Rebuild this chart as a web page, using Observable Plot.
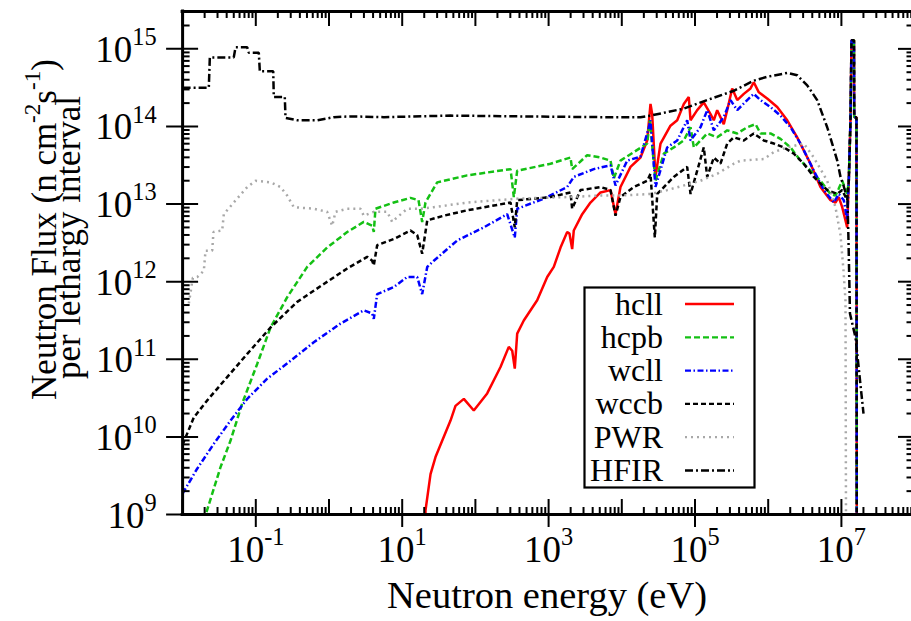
<!DOCTYPE html>
<html>
<head>
<meta charset="utf-8">
<script src="https://cdn.jsdelivr.net/npm/d3@7"></script>
<script src="https://cdn.jsdelivr.net/npm/@observablehq/plot@0.6"></script>
<style>
  html, body { margin: 0; padding: 0; background: #fff; overflow: hidden; }
  #wrap { position: relative; width: 911px; height: 621px; font-family: "Liberation Serif", "DejaVu Serif", serif; }
  #wrap svg, #wrap text { font-family: "Liberation Serif", "DejaVu Serif", serif !important; }
</style>
</head>
<body>
<div id="wrap"></div>
<script>
// ---- Data: [log10(energy / eV), log10(flux)] ----
const hcll = [[1.318,8.80],[1.318,9.05],[1.387,9.52],[1.455,9.74],[1.546,9.95],[1.660,10.21],[1.728,10.40],[1.842,10.49],[1.978,10.34],[2.161,10.56],[2.343,10.90],[2.456,11.16],[2.503,11.11],[2.538,10.88],[2.571,11.33],[2.661,11.50],[2.844,11.76],[2.981,12.06],[3.071,12.19],[3.163,12.44],[3.254,12.64],[3.285,12.62],[3.322,12.42],[3.344,12.66],[3.459,12.87],[3.572,13.02],[3.709,13.15],[3.846,13.18],[3.914,12.87],[3.982,13.22],[4.119,13.48],[4.255,13.60],[4.347,13.82],[4.392,14.29],[4.415,14.16],[4.460,13.35],[4.529,13.78],[4.665,14.01],[4.757,14.08],[4.847,14.29],[4.915,14.38],[4.939,14.08],[5.030,14.21],[5.120,14.31],[5.212,14.16],[5.257,14.08],[5.303,14.21],[5.393,14.03],[5.440,14.21],[5.508,14.49],[5.577,14.34],[5.667,14.42],[5.758,14.49],[5.803,14.57],[5.872,14.44],[5.986,14.36],[6.123,14.25],[6.260,14.08],[6.396,13.86],[6.578,13.52],[6.714,13.22],[6.851,13.05],[6.919,13.02],[6.964,13.09],[7.011,12.96],[7.056,12.79],[7.079,12.70],[7.101,13.30],[7.124,14.08],[7.138,15.11],[7.172,15.11],[7.175,14.12],[7.206,14.12],[7.210,8.80]];
const hcpb = [[-1.700,8.80],[-1.674,9.03],[-1.482,9.61],[-1.346,9.95],[-1.186,10.43],[-0.981,10.94],[-0.799,11.41],[-0.571,11.80],[-0.298,12.19],[-0.025,12.44],[0.249,12.64],[0.475,12.77],[0.590,12.72],[0.612,12.64],[0.635,12.94],[0.885,13.02],[1.113,13.08],[1.223,13.05],[1.273,12.77],[1.318,13.02],[1.478,13.28],[1.888,13.37],[2.480,13.45],[2.525,13.09],[2.571,13.43],[3.026,13.52],[3.299,13.60],[3.322,13.45],[3.527,13.63],[3.709,13.60],[3.846,13.56],[3.891,13.33],[3.982,13.56],[4.164,13.67],[4.347,13.78],[4.383,14.08],[4.460,13.30],[4.574,13.65],[4.710,13.73],[4.847,13.82],[4.939,13.99],[4.984,13.73],[5.167,13.91],[5.303,13.86],[5.440,13.95],[5.577,13.91],[5.713,13.99],[5.827,14.03],[5.895,13.91],[6.031,13.91],[6.168,13.84],[6.305,13.73],[6.441,13.56],[6.578,13.43],[6.714,13.30],[6.851,13.13],[6.919,13.11],[6.964,13.20],[7.011,13.30],[7.079,13.13],[7.101,13.30],[7.124,14.08],[7.138,15.11],[7.172,15.11],[7.175,14.12],[7.206,14.12],[7.210,8.80]];
const wcll = [[-2.000,9.27],[-1.801,9.59],[-1.574,9.91],[-1.346,10.21],[-1.117,10.49],[-0.844,10.75],[-0.526,10.98],[-0.208,11.22],[0.157,11.46],[0.475,11.63],[0.590,11.59],[0.612,11.52],[0.658,11.84],[0.885,11.93],[1.068,12.06],[1.205,12.06],[1.273,11.84],[1.342,12.19],[1.432,12.27],[1.751,12.53],[2.115,12.70],[2.434,12.87],[2.538,12.57],[2.571,12.94],[2.934,13.07],[3.254,13.22],[3.344,13.35],[3.617,13.45],[3.846,13.50],[3.914,13.24],[4.074,13.56],[4.255,13.61],[4.369,13.99],[4.392,14.08],[4.460,13.22],[4.620,13.73],[4.757,13.82],[4.893,14.08],[4.939,13.82],[5.075,13.99],[5.167,14.21],[5.257,13.95],[5.393,14.12],[5.485,14.34],[5.577,14.21],[5.713,14.34],[5.803,14.42],[5.895,14.34],[6.031,14.25],[6.168,14.14],[6.305,13.99],[6.441,13.78],[6.623,13.43],[6.760,13.18],[6.896,13.02],[6.964,13.13],[7.033,13.05],[7.079,12.79],[7.101,13.30],[7.124,14.08],[7.138,15.11],[7.172,15.11],[7.175,14.12],[7.206,14.12],[7.210,8.80]];
const wccb = [[-2.000,9.90],[-1.847,10.25],[-1.664,10.47],[-1.391,10.77],[-1.117,11.07],[-0.799,11.41],[-0.434,11.74],[-0.071,11.97],[0.249,12.17],[0.522,12.32],[0.590,12.27],[0.612,12.21],[0.658,12.47],[0.885,12.55],[1.113,12.66],[1.205,12.60],[1.273,12.36],[1.342,12.79],[1.568,12.85],[1.888,12.92],[2.480,13.02],[2.538,12.70],[2.571,13.05],[3.026,13.09],[3.299,13.15],[3.322,12.94],[3.436,13.18],[3.709,13.22],[3.846,13.18],[3.914,12.85],[3.982,13.09],[4.164,13.22],[4.347,13.30],[4.392,13.39],[4.451,12.57],[4.484,13.13],[4.710,13.35],[4.893,13.48],[4.939,13.13],[5.030,13.43],[5.120,13.73],[5.167,13.35],[5.257,13.60],[5.348,13.52],[5.440,13.78],[5.530,13.86],[5.667,13.82],[5.803,13.91],[5.940,13.82],[6.077,13.78],[6.213,13.73],[6.350,13.65],[6.486,13.52],[6.623,13.35],[6.806,13.18],[6.943,13.13],[7.011,13.18],[7.079,13.05],[7.101,13.30],[7.124,14.08],[7.138,15.11],[7.172,15.11],[7.175,14.12],[7.206,14.12],[7.210,8.80]];
const pwr = [[-1.915,11.72],[-1.860,12.05],[-1.800,12.06],[-1.710,12.14],[-1.687,12.40],[-1.596,12.40],[-1.578,12.64],[-1.459,12.66],[-1.437,12.87],[-1.301,13.02],[-1.117,13.22],[-1.004,13.30],[-0.799,13.28],[-0.663,13.22],[-0.571,13.11],[-0.481,12.96],[-0.208,12.94],[-0.025,12.90],[0.044,12.72],[0.089,12.90],[0.249,12.94],[0.430,12.94],[0.475,12.85],[0.612,12.90],[0.795,12.90],[0.863,12.77],[0.932,12.83],[1.068,12.94],[1.250,12.94],[1.432,12.96],[1.888,13.02],[2.571,13.07],[3.254,13.09],[3.709,13.11],[3.982,13.11],[4.392,13.13],[4.620,13.18],[5.075,13.30],[5.303,13.39],[5.530,13.52],[5.622,13.56],[5.940,13.58],[6.077,13.67],[6.260,13.73],[6.486,13.78],[6.623,13.60],[6.806,13.30],[6.919,12.96],[6.988,12.60],[7.029,12.14],[7.056,11.76],[7.063,8.80]];
const hfir = [[-2.000,14.50],[-1.642,14.50],[-1.628,14.89],[-1.301,14.89],[-1.277,15.02],[-1.117,15.02],[-1.096,14.95],[-0.959,14.95],[-0.945,14.71],[-0.762,14.71],[-0.754,14.38],[-0.604,14.38],[-0.594,14.11],[-0.434,14.08],[-0.161,14.08],[0.066,14.12],[0.294,14.13],[0.749,14.12],[1.660,14.14],[2.616,14.13],[3.709,14.12],[4.255,14.12],[4.392,14.14],[4.847,14.23],[5.167,14.34],[5.530,14.46],[5.803,14.59],[5.986,14.64],[6.260,14.69],[6.396,14.66],[6.533,14.53],[6.669,14.34],[6.806,13.99],[6.874,13.78],[6.943,13.56],[6.988,13.35],[7.029,13.24],[7.083,13.05],[7.097,12.53],[7.117,11.59],[7.193,11.28],[7.302,10.30]];

const seriesNames  = ["hcll", "hcpb", "wcll", "wccb", "PWR", "HFIR"];
const seriesData   = [hcll, hcpb, wcll, wccb, pwr, hfir];
const seriesColors = ["#ff0000", "#14c014", "#0000ff", "#000000", "#a8a8a8", "#000000"];
const seriesDashes = [null, "6,3", "6,2.5,1.5,2.5", "5,3", "2,4", "8,3,2,3"];

// ---- Axes ----
const xDecades  = [-2, -1, 0, 1, 2, 3, 4, 5, 6, 7, 8];
const xLabeled  = [-1, 1, 3, 5, 7];
const yDecades  = [9, 10, 11, 12, 13, 14, 15];
const minorMult = [2, 3, 4, 5, 6, 7, 8, 9];
const xDomain = [1e-2, 1e8];
const yDomain = [1e9, 3.03e15];
const xTitle = "Neutron energy (eV)";
const yTitle1 = "Neutron Flux (n cm^{-2}s^{-1})";
const yTitle2 = "per lethargy interval";

// ---- Layout ----
const W = 911, H = 621, mL = 182.1, mR = 0, mT = 11, mB = 107;
const FW = W - mL - mR, FH = H - mT - mB;
const FONT = "Liberation Serif, DejaVu Serif, serif";

const xMajorVals = xDecades.map(k => 10 ** k);
const xMinorVals = xDecades.slice(0, -1).flatMap(k => minorMult.map(m => m * 10 ** k));
const yMajorVals = yDecades.map(k => 10 ** k);
const yMinorVals = yDecades.flatMap(k => minorMult.map(m => m * 10 ** k)).filter(v => v <= yDomain[1]);

const lineMarks = seriesData.map((s, i) => Plot.line(s, {
  x: d => 10 ** d[0], y: d => 10 ** d[1],
  stroke: seriesColors[i], strokeWidth: 2.5,
  strokeDasharray: seriesDashes[i] ?? undefined,
  strokeLinecap: "butt", strokeLinejoin: "miter", clip: true
}));

const tk = {stroke: "black", strokeWidth: 2};
const plot = Plot.plot({
  width: W, height: H,
  marginLeft: mL, marginRight: mR, marginTop: mT, marginBottom: mB,
  style: {fontFamily: FONT, background: "white", color: "black"},
  x: {type: "log", domain: xDomain, range: [mL, mL + 10 * 73.2], axis: null},
  y: {type: "log", domain: yDomain, axis: null},
  marks: [
    ...lineMarks,
    Plot.tickX(xMajorVals, {x: d => d, insetTop: FH - 15, ...tk}),
    Plot.tickX(xLabeled.map(k => 10 ** k), {x: d => d, insetTop: FH, insetBottom: -13, ...tk}),
    Plot.tickX(xMinorVals, {x: d => d, insetTop: FH - 7, ...tk}),
    Plot.tickX(xMajorVals, {x: d => d, insetBottom: FH - 15, ...tk}),
    Plot.tickX(xMinorVals, {x: d => d, insetBottom: FH - 7, ...tk}),
    Plot.tickY(yMajorVals, {y: d => d, insetLeft: -16, insetRight: FW - 16, ...tk}),
    Plot.tickY(yMinorVals, {y: d => d, insetRight: FW - 7.5, ...tk}),
    Plot.tickY(yMajorVals, {y: d => d, insetLeft: FW - 13, ...tk}),
    Plot.tickY(yMinorVals, {y: d => d, insetLeft: FW - 4.5, ...tk}),
    Plot.ruleX([xDomain[0], xDomain[1]], {x: d => d, stroke: "black", strokeWidth: 3, strokeLinecap: "square"}),
    Plot.ruleY([yDomain[0], yDomain[1]], {y: d => d, stroke: "black", strokeWidth: 3, strokeLinecap: "square"}),
    Plot.text(xLabeled, {x: d => 10 ** d, text: d => `10^{${d}}`, frameAnchor: "bottom",
      dy: 47, lineAnchor: "bottom", textAnchor: "middle", fontSize: 37, fontFamily: FONT, fill: "black"}),
    Plot.text(yDecades, {y: d => 10 ** d, text: d => `10^{${d}}`, frameAnchor: "left",
      dx: -26, dy: 13, lineAnchor: "bottom", textAnchor: "end", fontSize: 37, fontFamily: FONT, fill: "black"}),
    Plot.text([xTitle], {frameAnchor: "bottom", dy: 93, lineAnchor: "bottom", textAnchor: "middle",
      fontSize: 38.5, fontFamily: FONT, fill: "black"}),
    Plot.text([yTitle1], {frameAnchor: "left", rotate: -90, dx: 55 - mL, dy: 229 - (mT + FH / 2),
      lineAnchor: "bottom", textAnchor: "middle", fontSize: 35, fontFamily: FONT, fill: "black"}),
    Plot.text([yTitle2], {frameAnchor: "left", rotate: -90, dx: 79 - mL, dy: 237 - (mT + FH / 2),
      lineAnchor: "bottom", textAnchor: "middle", fontSize: 35, fontFamily: FONT, fill: "black"})
  ]
});

const wrap = document.getElementById("wrap");
wrap.appendChild(plot);

// superscripts: "a^{b}c" -> tspans
const SVGNS = "http://www.w3.org/2000/svg";
plot.querySelectorAll("text").forEach(t => {
  const s = t.textContent;
  if (!s.includes("^{")) return;
  const base = parseFloat(getComputedStyle(t).fontSize) || 35;
  const shift = base * 0.45;
  const parts = s.split(/\^\{([^}]*)\}/);
  t.textContent = "";
  let raised = false;
  parts.forEach((p, i) => {
    const sup = i % 2 === 1;
    if (p === "" && !sup) return;
    const ts = document.createElementNS(SVGNS, "tspan");
    if (sup) {
      ts.setAttribute("font-size", (base * 0.66).toFixed(1));
      if (!raised) ts.setAttribute("dy", (-shift).toFixed(1));
      raised = true;
    } else {
      if (raised) ts.setAttribute("dy", shift.toFixed(1));
      raised = false;
    }
    ts.textContent = p;
    t.appendChild(ts);
  });
});

// legend (overlay box inside the plot area)
const leg = d3.select(wrap).append("svg")
  .style("position", "absolute").style("left", "583px").style("top", "286px")
  .attr("width", 173).attr("height", 203);
leg.append("rect").attr("x", 1.5).attr("y", 1.5).attr("width", 170).attr("height", 200)
  .attr("fill", "white").attr("stroke", "black").attr("stroke-width", 2.2);
seriesNames.forEach((name, i) => {
  const cy = 18 + 33.3 * i;
  leg.append("text").attr("x", 80).attr("y", cy + 10.5).attr("text-anchor", "end")
    .attr("font-size", 32).attr("fill", "black").text(name);
  leg.append("line").attr("x1", 102).attr("x2", 151).attr("y1", cy).attr("y2", cy)
    .attr("stroke", seriesColors[i]).attr("stroke-width", 2.3)
    .attr("stroke-dasharray", seriesDashes[i] ?? null);
});
</script>
</body>
</html>
